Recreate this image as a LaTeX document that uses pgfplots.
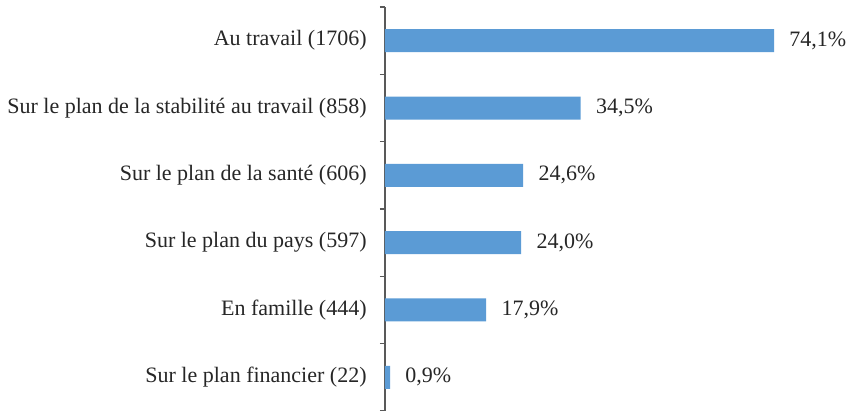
\documentclass[border=0pt]{standalone}
\usepackage{fontspec}
\setmainfont{Liberation Serif}
\usepackage{pgfplots}
\pgfplotsset{compat=1.18}
\definecolor{barblue}{HTML}{5B9BD5}
\definecolor{axgray}{HTML}{595959}
\definecolor{txt}{HTML}{262626}
\begin{document}
\begin{tikzpicture}
\begin{axis}[
  scale only axis, width=194.5pt, height=202pt,
  xmin=0, xmax=1706, ymin=-0.5, ymax=5.5,
  xbar, bar width=11.5pt,
  axis x line=none, axis y line*=left,
  axis line style={axgray, line width=0.75pt, -},
  ytick={0,...,5},
  yticklabels={Sur le plan financier (22), En famille (444), Sur le plan du pays (597), Sur le plan de la santé (606), Sur le plan de la stabilité au travail (858), Au travail (1706)},
  major tick length=0pt,
  minor ytick={-0.5,0.5,...,5.5},
  minor tick length=2.5pt, tick align=outside,
  tick style={axgray, line width=0.75pt},
  yticklabel style={font=\fontsize{11}{13}\selectfont, text=txt, inner sep=0pt, xshift=-9pt},
  nodes near coords={\pgfmathprintnumber[fixed,fixed zerofill,precision=1,use comma,assume math mode=true]{\pgfplotspointmeta}\%},
  point meta=explicit,
  nodes near coords style={font=\fontsize{11}{13}\selectfont, text=txt, anchor=west, inner sep=0pt, xshift=7.5pt},
  clip=false,
]
\addplot[fill=barblue, draw=none] table[x=n, y=i, meta=p] {
n i p
1706 5 74.1
858 4 34.5
606 3 24.6
597 2 24.0
444 1 17.9
22 0 0.9
};
\coordinate (bl) at (rel axis cs:0,0);
\coordinate (tl) at (rel axis cs:0,1);
\end{axis}
\pgfresetboundingbox
\path ([xshift=-192.5pt]bl) rectangle ([xshift=232.5pt,yshift=3.5pt]tl);
\end{tikzpicture}
\end{document}
